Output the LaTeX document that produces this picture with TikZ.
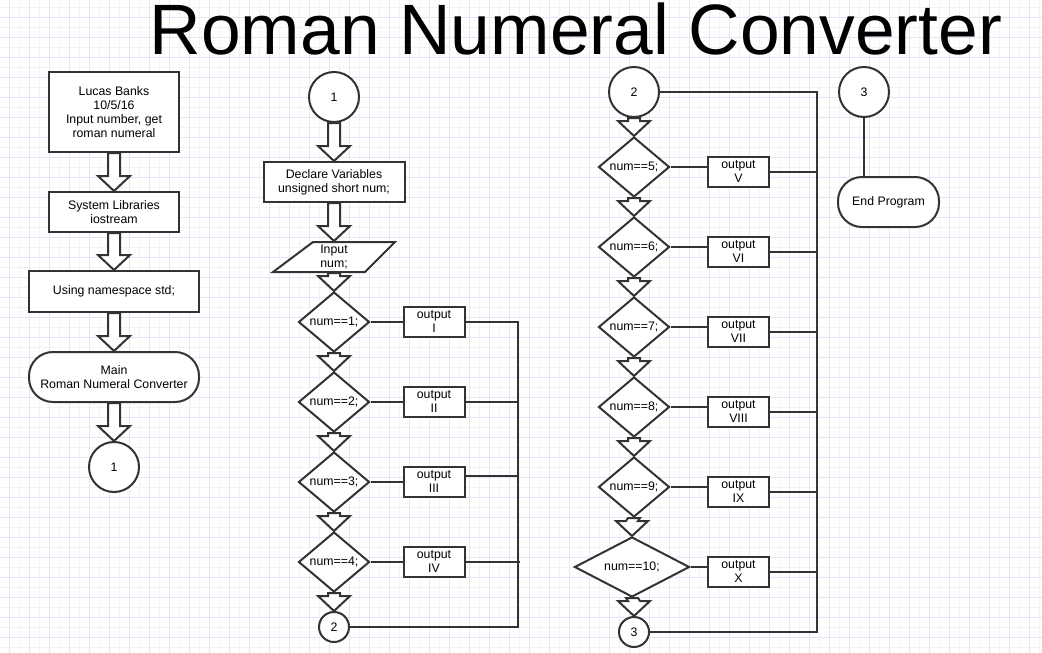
\documentclass[tikz,border=0pt]{standalone}
\usepackage{fontspec}
\setmainfont{Liberation Sans}
\usetikzlibrary{calc,shapes.geometric}

\definecolor{inkgray}{RGB}{51,51,51}
\definecolor{gridminor}{RGB}{243,242,252}
\definecolor{gridmajor}{RGB}{230,228,248}

\newcommand{\blockarrow}[2]{%
  \draw[blockline] ($(#1.south)+(-6,0)$) -- ($(#2.north)+(-6,-15)$) -- ($(#2.north)+(-16,-15)$) -- (#2.north) -- ($(#2.north)+(16,-15)$) -- ($(#2.north)+(6,-15)$) -- ($(#1.south)+(6,0)$) -- cycle ;}

\tikzset{every picture/.style={line width=1.5pt}}
\tikzset{
  flowtext/.style={font=\fontsize{9.25}{10.5}\selectfont, align=center},
  procbox/.style={flowtext, rectangle, draw=inkgray, fill=white, inner sep=0pt},
  termbox/.style={procbox, rounded corners=18pt},
  outbox/.style={procbox, minimum width=45.75pt, minimum height=22.5pt},
  connbig/.style={flowtext, circle, draw=inkgray, fill=white, inner sep=0pt, minimum size=37.5pt},
  connsmall/.style={connbig, minimum size=22.5pt},
  decision/.style={flowtext, diamond, aspect=1.2, draw=inkgray, fill=white, inner sep=0pt, minimum width=53.25pt, minimum height=45pt},
  flowline/.style={draw=inkgray},
  blockline/.style={draw=inkgray, fill=white, line join=miter},
  gridline/.style={draw=gridminor, line width=0.75pt},
  gridbold/.style={draw=gridmajor, line width=0.75pt}
}

\begin{document}
\begin{tikzpicture}[x=0.75pt,y=0.75pt,yscale=-1,xscale=1]
\useasboundingbox (0,0) rectangle (1042,653);
\fill[white] (0,0) rectangle (1042,653);

%Grid
\foreach \gx in {19,39,...,1039} \draw[gridline] (\gx,0) -- (\gx,653);
\foreach \gy in {7,27,...,647} \draw[gridline] (0,\gy) -- (1042,\gy);
\foreach \gx in {9,29,...,1029} \draw[gridbold] (\gx,0) -- (\gx,653);
\foreach \gy in {17,37,...,637} \draw[gridbold] (0,\gy) -- (1042,\gy);

% Title
\node[anchor=base, inner sep=0pt, font=\fontsize{53.5}{60}\selectfont] (title) at (576,54) {Roman Numeral Converter};

%Left column
\node[procbox, minimum width=97.5pt, minimum height=60pt] (hdr) at (114,112) {Lucas Banks\\10/5/16\\Input number, get\\roman numeral};
\node[procbox, minimum width=97.5pt, minimum height=30pt] (libs) at (114,212) {System Libraries\\iostream};
\node[procbox, minimum width=127.5pt, minimum height=30.75pt] (nspace) at (114,291.5) {Using namespace std;};
\node[termbox, minimum width=127.5pt, minimum height=37.5pt] (mainfn) at (114,377) {Main\\Roman Numeral Converter};
\node[connbig] (ca) at (114,467) {1};

\blockarrow{hdr}{libs}
\blockarrow{libs}{nspace}
\blockarrow{nspace}{mainfn}
\blockarrow{mainfn}{ca}

%Middle column
\node[connbig] (cb) at (334,97) {1};
\node[procbox, minimum width=105.75pt, minimum height=30pt] (decl) at (334,182) {Declare Variables\\unsigned short num;};
\node[flowtext, inner sep=0pt, minimum height=22.5pt] (inp) at (334,257) {Input\\num;};
\draw[flowline, fill=white] ($(inp)+(-21,-15)$) -- ($(inp)+(61,-15)$) -- ($(inp)+(31,15)$) -- ($(inp)+(-61,15)$) -- cycle ;
\node[flowtext, inner sep=0pt] at (inp) {Input\\num;};

\node[decision] (d1) at (334,322) {num==1;};
\node[decision] (d2) at (334,402) {num==2;};
\node[decision] (d3) at (334,482) {num==3;};
\node[decision] (d4) at (334,562) {num==4;};
\node[connsmall] (cc) at (334,627) {2};

\node[outbox] (o1) at (434,322) {output\\I};
\node[outbox] (o2) at (434,402) {output\\II};
\node[outbox] (o3) at (434,482) {output\\III};
\node[outbox] (o4) at (434,562) {output\\IV};

\blockarrow{cb}{decl}
\blockarrow{decl}{inp}
\blockarrow{inp}{d1}
\blockarrow{d1}{d2}
\blockarrow{d2}{d3}
\blockarrow{d3}{d4}
\blockarrow{d4}{cc}

\coordinate (busa) at (518,627);
\draw[flowline] (o1.east) -| (busa) -- (cc.east) ;
\draw[flowline] (o2.east) -- (o2.east -| busa) ;
\draw[flowline] ([yshift=-4.5pt]o3.east) -- ([yshift=-4.5pt]o3.east -| busa) ;
\draw[flowline] (o4.east) -- ($(o4.east -| busa)+(2,0)$) ;
\foreach \k in {1,...,4} \draw[flowline] (d\k.east) -- (d\k.east -| o\k.west) ;

%Right column
\node[connbig] (cd) at (634,92) {2};
\node[decision] (d5) at (634,167) {num==5;};
\node[decision] (d6) at (634,247) {num==6;};
\node[decision] (d7) at (634,327) {num==7;};
\node[decision] (d8) at (634,407) {num==8;};
\node[decision] (d9) at (634,487) {num==9;};
\node[decision, aspect=2, minimum width=86.25pt] (d10) at (632,567) {num==10;};
\node[connsmall] (ce) at (634,632) {3};

\node[outbox] (o5) at (738.5,172) {output\\V};
\node[outbox] (o6) at (738.5,252) {output\\VI};
\node[outbox] (o7) at (738.5,332) {output\\VII};
\node[outbox] (o8) at (738.5,412) {output\\VIII};
\node[outbox] (o9) at (738.5,492) {output\\IX};
\node[outbox] (o10) at (738.5,572) {output\\X};

\blockarrow{cd}{d5}
\blockarrow{d5}{d6}
\blockarrow{d6}{d7}
\blockarrow{d7}{d8}
\blockarrow{d8}{d9}
\blockarrow{d9}{d10}
\blockarrow{d10}{ce}

\coordinate (busb) at (817,92);
\coordinate (busc) at (817,632);
\draw[flowline] (cd.east) -- (busb) -- (busc) -- (ce.east) ;
\foreach \k in {5,...,10} {
  \draw[flowline] (d\k.east) -- (d\k.east -| o\k.west) ;
  \draw[flowline] (o\k.east) -- (o\k.east -| busb) ;
}

%End
\node[connbig] (cf) at (864,92) {3};
\node[termbox, minimum width=75.75pt, minimum height=37.5pt] (endp) at (888.5,202) {End Program};
\draw[flowline] (cf.south) -- (cf.south |- endp.north) ;

\end{tikzpicture}
\end{document}
